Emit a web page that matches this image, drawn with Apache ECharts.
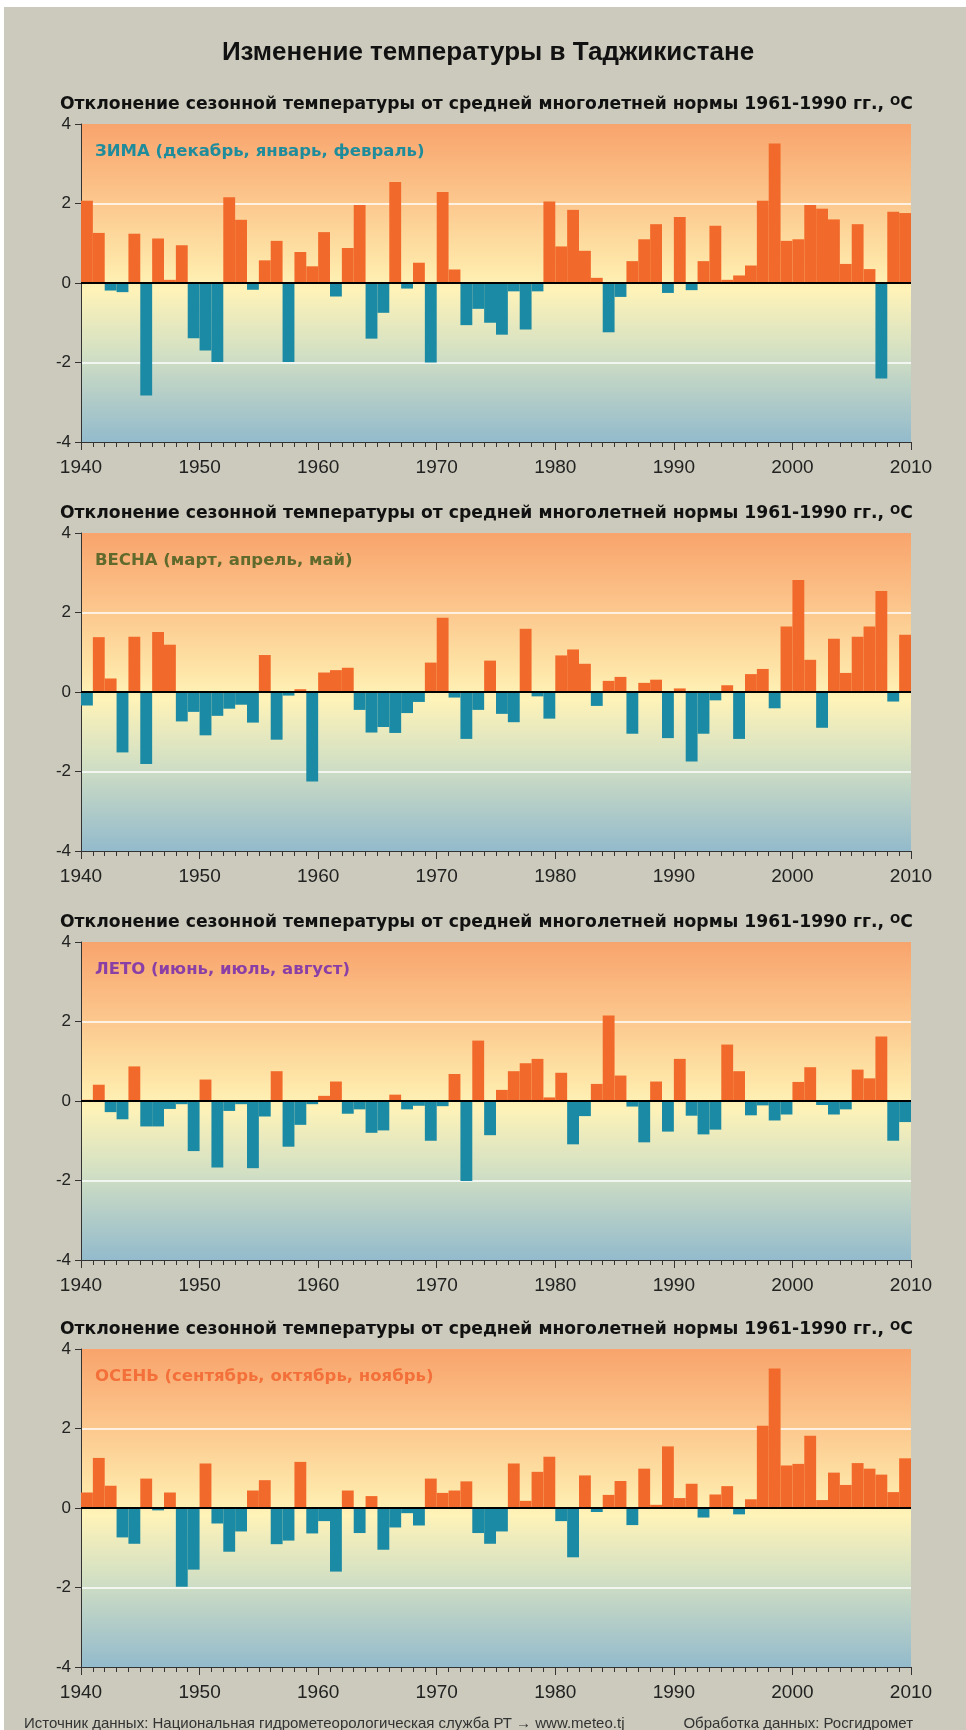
<!DOCTYPE html>
<html>
<head>
<meta charset="utf-8">
<script src="https://cdn.jsdelivr.net/npm/echarts@6/dist/echarts.min.js"></script>
<style>
  html, body { margin: 0; padding: 0; background: #cbcabc; }
  #main { width: 966px; height: 1730px; }
</style>
</head>
<body>
<div id="main"></div>
<script>
// годы 1940..2009, каждый столбик занимает интервал [год, год+1]
const firstYear = 1940;
const xTicks = [1940, 1950, 1960, 1970, 1980, 1990, 2000, 2010];
const yTicks = [-4, -2, 0, 2, 4];

const winter = [
  2.07, 1.26, -0.19, -0.23, 1.24, -2.83, 1.12, 0.08, 0.95, -1.39,
  -1.70, -1.99, 2.16, 1.59, -0.17, 0.57, 1.06, -1.99, 0.78, 0.42,
  1.28, -0.34, 0.88, 1.96, -1.40, -0.75, 2.54, -0.14, 0.51, -2.00,
  2.29, 0.34, -1.06, -0.65, -1.00, -1.30, -0.21, -1.17, -0.21, 2.05,
  0.92, 1.84, 0.81, 0.13, -1.24, -0.35, 0.55, 1.10, 1.48, -0.25,
  1.66, -0.18, 0.55, 1.44, 0.08, 0.19, 0.44, 2.07, 3.51, 1.06,
  1.10, 1.96, 1.87, 1.60, 0.48, 1.48, 0.35, -2.40, 1.79, 1.76
];
const spring = [
  -0.34, 1.38, 0.34, -1.52, 1.39, -1.81, 1.51, 1.19, -0.74, -0.50,
  -1.09, -0.60, -0.42, -0.32, -0.77, 0.93, -1.20, -0.09, 0.07, -2.25,
  0.49, 0.55, 0.61, -0.45, -1.02, -0.88, -1.03, -0.53, -0.25, 0.74,
  1.87, -0.14, -1.18, -0.45, 0.79, -0.55, -0.76, 1.59, -0.11, -0.67,
  0.92, 1.07, 0.71, -0.35, 0.28, 0.38, -1.05, 0.23, 0.31, -1.16,
  0.09, -1.75, -1.05, -0.21, 0.17, -1.18, 0.45, 0.58, -0.41, 1.65,
  2.82, 0.81, -0.90, 1.34, 0.48, 1.39, 1.65, 2.54, -0.24, 1.44
];
const summer = [
  0.03, 0.41, -0.28, -0.46, 0.87, -0.64, -0.64, -0.20, -0.08, -1.26,
  0.54, -1.67, -0.25, -0.08, -1.69, -0.39, 0.75, -1.15, -0.60, -0.08,
  0.13, 0.49, -0.32, -0.21, -0.80, -0.74, 0.16, -0.21, -0.12, -1.00,
  -0.13, 0.68, -2.01, 1.52, -0.86, 0.28, 0.75, 0.95, 1.06, 0.09,
  0.71, -1.09, -0.38, 0.43, 2.15, 0.64, -0.14, -1.04, 0.49, -0.77,
  1.06, -0.37, -0.84, -0.72, 1.42, 0.75, -0.36, -0.11, -0.49, -0.34,
  0.48, 0.85, -0.10, -0.34, -0.21, 0.79, 0.57, 1.62, -1.00, -0.53
];
const autumn = [
  0.39, 1.26, 0.56, -0.74, -0.90, 0.74, -0.06, 0.39, -1.98, -1.55,
  1.12, -0.39, -1.10, -0.59, 0.44, 0.70, -0.91, -0.82, 1.16, -0.64,
  -0.33, -1.60, 0.44, -0.63, 0.30, -1.05, -0.49, -0.13, -0.44, 0.74,
  0.38, 0.44, 0.67, -0.63, -0.90, -0.59, 1.12, 0.18, 0.91, 1.29,
  -0.33, -1.24, 0.82, -0.10, 0.33, 0.68, -0.43, 0.99, 0.08, 1.55,
  0.25, 0.61, -0.24, 0.34, 0.55, -0.16, 0.22, 2.07, 3.51, 1.07,
  1.11, 1.82, 0.20, 0.89, 0.58, 1.13, 0.99, 0.84, 0.40, 1.25
];

const seasonLabels = [
  'ЗИМА (декабрь, январь, февраль)',
  'ВЕСНА (март, апрель, май)',
  'ЛЕТО (июнь, июль, август)',
  'ОСЕНЬ (сентябрь, октябрь, ноябрь)'
];
const seasonColors = ['#1f8c9c', '#5f6a2c', '#8a3fa6', '#f3703a'];
const allSeasons = [winter, spring, summer, autumn];

const warm = '#f26a2b';
const cold = '#1b8aa4';
const gridTops = [124, 533, 942, 1349];
const gridH = 318;
const boldWide = '"DejaVu Sans", Verdana, sans-serif';

const bgGradient = {
  type: 'linear', x: 0, y: 0, x2: 0, y2: 1,
  colorStops: [
    { offset: 0, color: '#f8a46c' },
    { offset: 0.25, color: '#fcc88e' },
    { offset: 0.44, color: '#fee6a8' },
    { offset: 0.52, color: '#fff3b8' },
    { offset: 0.72, color: '#d3e0c3' },
    { offset: 0.87, color: '#b0cbc8' },
    { offset: 1, color: '#93bbcc' }
  ]
};

let grids = [], xAxes = [], yAxes = [], series = [], graphics = [];

graphics.push({ type: 'rect', shape: { x: 0, y: 0, width: 966, height: 7 }, style: { fill: '#fff' } });
graphics.push({ type: 'rect', shape: { x: 0, y: 0, width: 4, height: 1730 }, style: { fill: '#fff' } });
graphics.push({
  type: 'text', x: 488, y: 53,
  style: { text: 'Изменение температуры в Таджикистане', font: 'bold 26px Arial', fill: '#111', textAlign: 'center', textVerticalAlign: 'middle' }
});

allSeasons.forEach((vals, i) => {
  grids.push({
    left: 81, width: 830, top: gridTops[i], height: gridH,
    show: true, backgroundColor: bgGradient, borderWidth: 0
  });
  xAxes.push({
    type: 'value', gridIndex: i, min: 1940, max: 2010, interval: 10,
    axisLine: { onZero: false, lineStyle: { color: '#333', width: 1 } },
    axisTick: { length: 8, lineStyle: { color: '#333' } },
    minorTick: { show: true, splitNumber: 10, length: 5, lineStyle: { color: '#333' } },
    splitLine: { show: false },
    axisLabel: { fontSize: 19, color: '#222', fontFamily: 'Arial', margin: 16, formatter: v => String(v) }
  });
  yAxes.push({
    type: 'value', gridIndex: i, min: -4, max: 4, interval: 2,
    axisLine: { show: true, lineStyle: { color: '#333', width: 1 } },
    axisTick: { show: true, length: 6, lineStyle: { color: '#333' } },
    splitLine: { show: true, lineStyle: { color: ['rgba(0,0,0,0)', '#ffffff', 'rgba(0,0,0,0)', '#ffffff', 'rgba(0,0,0,0)'], width: 1.5 } },
    axisLabel: { fontSize: 17, color: '#222', fontFamily: 'Arial', margin: 10 }
  });
  series.push({
    type: 'bar', xAxisIndex: i, yAxisIndex: i,
    data: vals.map((v, k) => [firstYear + k + 0.5, v]),
    barWidth: '100%',
    itemStyle: { color: p => (p.value[1] >= 0 ? warm : cold) },
    markLine: {
      silent: true, symbol: 'none', label: { show: false },
      lineStyle: { color: '#000', width: 2, type: 'solid' },
      data: [{ yAxis: 0 }]
    }
  });
  graphics.push({
    type: 'text', x: 60, y: gridTops[i] - 19,
    style: {
      text: '{a|Отклонение сезонной температуры от средней многолетней нормы 1961-1990 гг., }{s|O}{a|C}',
      textVerticalAlign: 'middle',
      rich: {
        a: { fontSize: 17.2, fontWeight: 'bold', fontFamily: boldWide, fill: '#111', lineHeight: 19 },
        s: { fontSize: 12, fontWeight: 'bold', fontFamily: boldWide, fill: '#111', lineHeight: 12, verticalAlign: 'top' }
      }
    }
  });
  graphics.push({
    type: 'text', x: 95, y: gridTops[i] + 28,
    style: { text: seasonLabels[i], font: 'bold 16.5px ' + boldWide, fill: seasonColors[i], textVerticalAlign: 'middle' }
  });
});

graphics.push({
  type: 'text', x: 24, y: 1724,
  style: { text: 'Источник данных: Национальная гидрометеорологическая служба РТ → www.meteo.tj', font: '15px Arial', fill: '#333', textVerticalAlign: 'middle' }
});
graphics.push({
  type: 'text', x: 913, y: 1724,
  style: { text: 'Обработка данных: Росгидромет', font: '15px Arial', fill: '#333', textAlign: 'right', textVerticalAlign: 'middle' }
});

const chart = echarts.init(document.getElementById('main'));
chart.setOption({
  animation: false,
  backgroundColor: '#cbcabc',
  grid: grids,
  xAxis: xAxes,
  yAxis: yAxes,
  series: series,
  graphic: graphics
});
</script>
</body>
</html>
